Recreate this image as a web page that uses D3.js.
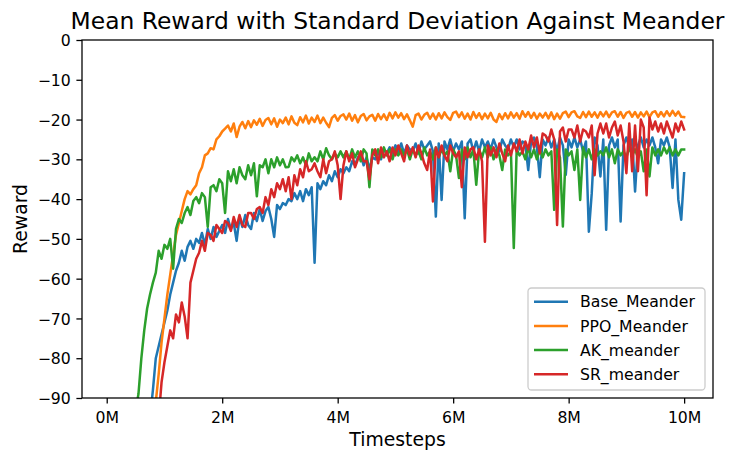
<!DOCTYPE html>
<html>
<head>
<meta charset="utf-8">
<script src="https://cdn.jsdelivr.net/npm/d3@7"></script>
<style>
body { margin: 0; background: #fff; }
text { font-family: "DejaVu Sans", sans-serif; fill: #000; }
</style>
</head>
<body>
<div id="chart"></div>
<script>
// series names in plot order (later ones are drawn on top)
var seriesNames = ["Base_Meander", "PPO_Meander", "AK_meander", "SR_meander"];
var colors = ["#1f77b4", "#ff7f0e", "#2ca02c", "#d62728"];
var xTicks = [0, 2, 4, 6, 8, 10];
var yTicks = [0, -10, -20, -30, -40, -50, -60, -70, -80, -90];

// evaluation checkpoints, in millions of timesteps (0.1M .. 10M every 0.05M)
var timesteps = d3.range(199).map(function(i) { return +(0.1 + i * 0.05).toFixed(2); });

var baseMeander = [
  -160,-156,-152,-148,-144,-140,-136,-132,-128,-124,
  -115,-108,-102,-95,-88,-80,-77,-74,-71,-68,
  -64,-61,-58,-56,-53,-55.5,-52,-50.5,-52.5,-50,
  -51,-48.5,-51.5,-47.5,-50,-47,-49.5,-48,-46.5,-48.5,
  -45,-47.5,-46,-50.5,-44.5,-47,-44,-46.5,-47.5,-43.5,
  -45.5,-42.5,-45.5,-43,-42,-45,-49.5,-41.5,-42.5,-41,
  -41.5,-40,-40.5,-38.5,-40,-38,-40.5,-37.5,-39,-37,
  -56,-36,-37.5,-35.5,-36.5,-34,-35.5,-33,-34.5,-32.5,
  -33.5,-32,-33,-30.5,-31.5,-29.5,-29,-31.5,-29.5,-32.5,
  -29.5,-30,-28,-30,-27.5,-28.5,-27,-28.5,-26.5,-28,
  -26,-28.5,-26.5,-27.5,-28,-26,-28.5,-25.5,-27.5,-26.5,
  -25.5,-28,-44.4,-26,-40.2,-25.5,-27.5,-25,-28,-26,
  -27.5,-25.5,-44.8,-26,-25,-28,-25.5,-28,-25,-27,
  -25.5,-27.5,-25,-27,-28,-25,-26.5,-27.5,-25,-27,
  -25,-27.5,-25.5,-26,-32.7,-25.5,-24.5,-27,-34.5,-25,
  -26.5,-24.5,-27,-25,-28,-24.5,-26.5,-33.9,-25,-27,
  -24.5,-27,-25,-28,-25.5,-48.2,-38.5,-24.5,-26.5,-34.3,
  -25,-47.7,-26.5,-24.5,-27,-25,-45.6,-26.5,-24.5,-27,
  -25,-38.1,-26.5,-24.5,-27,-25,-26.5,-24.5,-27,-31,
  -25,-26.5,-24.5,-27,-37.2,-25,-40.2,-45.2,-33.5
];

var ppoMeander = [
  -140,-138,-135,-131,-128,-124,-120,-116,-112,-108,
  -105,-102,-99,-96,-94,-91,-84,-76,-70,-64,
  -59,-54,-49,-46,-43,-40,-38,-38.8,-37.5,-36.5,
  -33.5,-32,-29,-28.5,-27.2,-27.5,-25,-24.2,-23,-22.3,
  -21.5,-23.0,-21.0,-24.4,-21.8,-20.6,-22.2,-20.4,-21.9,-20.2,
  -21.3,-19.8,-21.6,-20.1,-19.6,-21.2,-19.7,-21.8,-20.0,-20.9,
  -19.5,-21.2,-19.2,-20.8,-21.4,-19.4,-20.7,-19.0,-21.0,-19.5,
  -20.6,-19.0,-20.9,-19.5,-20.8,-21.9,-19.6,-18.9,-20.3,-19.1,
  -18.7,-20.0,-18.5,-20.3,-18.9,-20.7,-19.1,-18.6,-20.2,-19.2,
  -18.8,-20.3,-18.6,-19.9,-18.7,-20.1,-18.3,-19.7,-18.2,-19.5,
  -18.4,-19.9,-18.7,-20.2,-21.8,-18.9,-18.5,-20.0,-18.8,-18.3,
  -19.8,-18.5,-20.0,-18.4,-19.7,-18.2,-19.4,-20.1,-18.3,-18.0,
  -19.4,-18.2,-19.8,-18.5,-20.0,-18.1,-19.6,-18.4,-19.9,-18.5,
  -19.7,-18.3,-20.0,-20.6,-18.6,-19.9,-18.4,-19.7,-18.2,-19.5,
  -18.4,-19.8,-17.9,-19.3,-18.1,-19.6,-18.3,-19.8,-18.5,-19.5,
  -18.3,-19.7,-18.2,-19.9,-18.5,-19.8,-18.4,-18.0,-19.4,-18.2,
  -17.9,-19.2,-19.6,-18.1,-19.4,-18.0,-19.3,-18.2,-19.5,-18.1,
  -19.2,-18.0,-19.4,-18.2,-17.9,-19.3,-18.1,-19.6,-18.3,-18.0,
  -19.3,-18.1,-19.5,-18.2,-19.2,-18.0,-19.4,-18.2,-17.9,-19.3,
  -18.1,-19.2,-17.9,-19.1,-17.8,-19.0,-18.0,-19.3,-19.4
];

var akMeander = [
  -125,-121,-117,-113,-109,-105,-101,-97,-93,-89,
  -80,-73,-67.5,-64,-61,-58.5,-53,-55,-51.5,-52.5,
  -50,-57.5,-47.5,-45,-46,-43.5,-42,-44,-40.5,-39.5,
  -41,-38.5,-39.5,-47,-37,-36.5,-38,-35,-36,-43.5,
  -33,-35.5,-32.5,-36,-32,-34,-35,-31.5,-34,-31,
  -39.3,-31.5,-32,-30,-33.5,-30,-32,-29.5,-31.5,-30,
  -32,-31.9,-29.5,-30.5,-29,-31,-29.5,-31.5,-28.5,-30.5,
  -29.5,-30.5,-28,-30,-27.2,-29,-30,-28.5,-29.5,-28,
  -29.5,-28,-30,-27.5,-29.5,-28,-30.5,-27.5,-28.5,-37,
  -27.5,-29,-27.5,-29.5,-27,-29,-27.5,-30,-27.5,-29,
  -27.5,-29,-27.5,-30,-27.5,-29,-28,-30,-27,-29,
  -28,-30,-27,-29.5,-27.5,-29,-28,-33,-27.5,-29,
  -34.7,-27.5,-30,-27,-29.5,-27.5,-36.4,-27.5,-29.5,-27,
  -29.5,-27,-30,-27.5,-29,-32.7,-27.5,-29,-28,-52.3,
  -27.5,-29,-28,-30,-27,-29.5,-27.5,-30,-27.5,-29.5,
  -27.5,-29,-28,-42.7,-27.5,-29.5,-46.9,-27.5,-29,-28,
  -32.7,-27.5,-40.2,-27,-29.5,-27.5,-30,-27.5,-29,-28,
  -29,-27,-29.5,-27.5,-31,-27.5,-29,-28,-29.5,-27,
  -29,-27.5,-29.5,-28,-33,-27.5,-34.3,-27,-29,-27.5,
  -29,-27,-28.5,-27,-29,-27.5,-29,-27.5,-27.5
];

var srMeander = [
  -150,-147,-144,-141,-138,-135,-132,-129,-126,-123,
  -121,-118,-114,-110,-106,-101,-95,-86,-81,-77,
  -73,-75,-69,-71,-66,-69.5,-75,-61,-58,-55,
  -53.5,-50.5,-53,-48.5,-49,-50.5,-46.5,-47.5,-48.5,-45.5,
  -46,-48,-44.5,-47,-44,-46.5,-47,-43.5,-43.5,-45,
  -42.5,-42,-43.5,-39.5,-41.5,-37.5,-39.5,-36,-37.5,-35,
  -38,-34.5,-40,-34,-36.5,-32.5,-34.5,-30.5,-33,-32.5,
  -31,-33,-34.5,-30,-33.5,-30.5,-30,-28,-31.5,-40,
  -31.5,-28,-30.5,-28.5,-32,-30,-28,-30.5,-30.5,-35,
  -29,-27.5,-31,-27,-29.5,-28,-30.5,-27,-29,-26.5,
  -28.5,-30.5,-26.5,-29,-27,-29.5,-26.5,-28.5,-31,-32.7,
  -27.5,-40.6,-27,-29.5,-26.5,-29,-30.5,-26.5,-28.5,-29.5,
  -28,-37,-27,-29.5,-27.5,-27,-30,-27.5,-30.5,-50.7,
  -26.5,-29,-27,-29.5,-26,-28.5,-30.5,-26.5,-29,-26,
  -28,-25,-28.5,-25.5,-27.5,-24,-27,-24.5,-28.5,-23.5,
  -24,-25.5,-22.5,-25,-46.5,-23,-22,-25.5,-22.5,-22.5,
  -24.5,-21.5,-25.5,-22.5,-23,-24.5,-21.5,-34,-23.5,-21,
  -23.5,-21,-24.5,-22,-20.5,-24,-21.5,-25.5,-33.5,-21,
  -33,-21.5,-33,-20,-22,-39,-19.5,-22.5,-20.5,-23,
  -21,-23.5,-20.5,-22.5,-24.5,-21,-23,-20.5,-22.5
];

var allSeries = [baseMeander, ppoMeander, akMeander, srMeander];

var svgWidth = 748;
var svgHeight = 462;
var margin = { top: 40, right: 35, bottom: 64, left: 82 };
var width = svgWidth - margin.left - margin.right;
var height = svgHeight - margin.top - margin.bottom;

var svg = d3.select("#chart")
  .append("svg")
  .attr("width", svgWidth)
  .attr("height", svgHeight);

svg.append("rect")
  .attr("width", svgWidth)
  .attr("height", svgHeight)
  .attr("fill", "#fff");

var chartGroup = svg.append("g")
  .attr("transform", "translate(" + margin.left + "," + margin.top + ")");

// scales
var xScale = d3.scaleLinear().domain([-0.428, 10.5]).range([0, width]);
var yScale = d3.scaleLinear().domain([-90, 0]).range([height, 0]);

// clip lines to the axes box
svg.append("defs").append("clipPath")
  .attr("id", "plot-clip")
  .append("rect")
  .attr("width", width)
  .attr("height", height);

var line = d3.line()
  .x(function(d, i) { return xScale(timesteps[i]); })
  .y(function(d) { return yScale(d); });

var lineGroup = chartGroup.append("g").attr("clip-path", "url(#plot-clip)");
allSeries.forEach(function(values, k) {
  lineGroup.append("path")
    .datum(values)
    .attr("fill", "none")
    .attr("stroke", colors[k])
    .attr("stroke-width", 2.5)
    .attr("stroke-linejoin", "round")
    .attr("stroke-linecap", "square")
    .attr("d", line);
});

// axes
var bottomAxis = d3.axisBottom(xScale)
  .tickValues(xTicks)
  .tickFormat(function(d) { return d + "M"; })
  .tickSize(5.6)
  .tickPadding(5.6)
  .tickSizeOuter(0);

var leftAxis = d3.axisLeft(yScale)
  .tickValues(yTicks)
  .tickFormat(function(d) { return String(d).replace("-", "\u2212"); })
  .tickSize(5.6)
  .tickPadding(5.6)
  .tickSizeOuter(0);

var xAxisG = chartGroup.append("g")
  .attr("transform", "translate(0," + height + ")")
  .call(bottomAxis);
var yAxisG = chartGroup.append("g")
  .call(leftAxis);

[xAxisG, yAxisG].forEach(function(g) {
  g.select(".domain").remove();
  g.selectAll(".tick line").attr("stroke", "#000").attr("stroke-width", 1.28);
  g.selectAll(".tick text")
    .attr("fill", "#000")
    .style("font-size", "15.7px")
    .style("font-family", "DejaVu Sans, sans-serif");
});
xAxisG.selectAll(".tick text").attr("dy", "0.88em");
yAxisG.selectAll(".tick text").attr("dy", "0.36em");

// spines
chartGroup.append("rect")
  .attr("width", width)
  .attr("height", height)
  .attr("fill", "none")
  .attr("stroke", "#000")
  .attr("stroke-width", 1.28);

// title and axis labels
svg.append("text")
  .attr("x", margin.left + width / 2)
  .attr("y", 29)
  .attr("text-anchor", "middle")
  .style("font-size", "23.4px")
  .text("Mean Reward with Standard Deviation Against Meander");

svg.append("text")
  .attr("x", margin.left + width / 2)
  .attr("y", 446)
  .attr("text-anchor", "middle")
  .style("font-size", "18.8px")
  .text("Timesteps");

svg.append("text")
  .attr("transform", "translate(26.5," + (margin.top + height / 2) + ") rotate(-90)")
  .attr("text-anchor", "middle")
  .style("font-size", "18.8px")
  .text("Reward");

// legend
var legend = svg.append("g").attr("transform", "translate(528,288)");
legend.append("rect")
  .attr("width", 177)
  .attr("height", 102)
  .attr("rx", 3.5)
  .attr("fill", "#fff")
  .attr("fill-opacity", 0.8)
  .attr("stroke", "#cccccc")
  .attr("stroke-width", 1.28);

seriesNames.forEach(function(name, k) {
  var yy = 13.7 + k * 24.2;
  legend.append("line")
    .attr("x1", 6).attr("x2", 40)
    .attr("y1", yy).attr("y2", yy)
    .attr("stroke", colors[k])
    .attr("stroke-width", 2.5);
  legend.append("text")
    .attr("x", 52)
    .attr("y", yy)
    .attr("dy", "0.36em")
    .style("font-size", "15.7px")
    .text(name);
});
</script>
</body>
</html>
